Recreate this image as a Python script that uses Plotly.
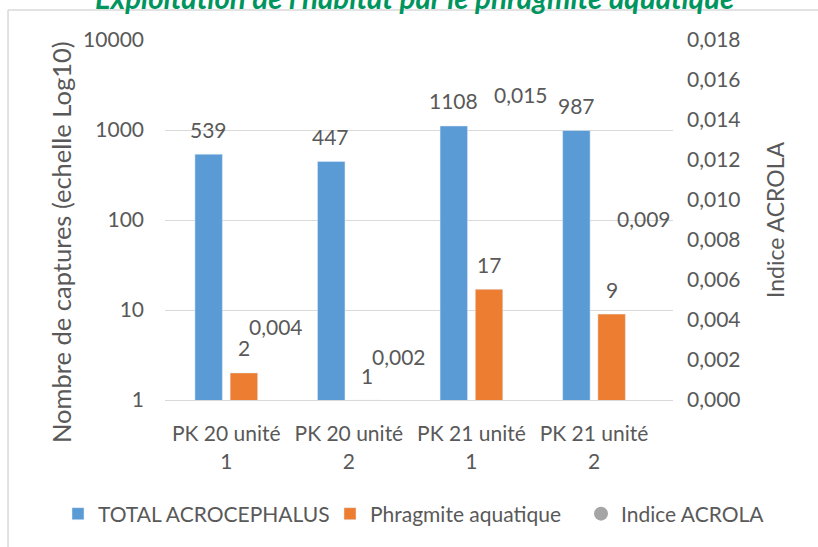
import math
import plotly.graph_objects as go

# ---- data ----
categories = ["PK 20 unité<br>1", "PK 20 unité<br>2", "PK 21 unité<br>1", "PK 21 unité<br>2"]
total_acrocephalus = [539, 447, 1108, 987]
phragmite_aquatique = [2, 1, 17, 9]
indice_acrola = [0.0037, 0.0022, 0.0153, 0.0091]
indice_labels = ["0,004", "0,002", "0,015", "0,009"]
left_tickvals = [1, 10, 100, 1000, 10000]
left_ticktext = ["1", "10", "100", "1000", "10000"]
right_tickvals = [0.000, 0.002, 0.004, 0.006, 0.008, 0.010, 0.012, 0.014, 0.016, 0.018]
right_ticktext = ["0,000", "0,002", "0,004", "0,006", "0,008", "0,010", "0,012", "0,014", "0,016", "0,018"]

title_text = "Exploitation de l'habitat par le phragmite aquatique"
left_title = "Nombre de captures (echelle Log10)"
right_title = "Indice ACROLA"

BLUE = "#5B9BD5"
ORANGE = "#ED7D31"
GRAY = "#A5A5A5"
TXT = "#595959"
GRID = "#D9D9D9"
FONT = "Lato"
FS = 21

fig = go.Figure()
fig.add_trace(go.Bar(x=categories, y=total_acrocephalus, name="TOTAL ACROCEPHALUS",
                     marker_color=BLUE, legend="legend"))
fig.add_trace(go.Bar(x=categories, y=phragmite_aquatique, name="Phragmite aquatique",
                     marker_color=ORANGE, legend="legend2"))
# Indice ACROLA: invisible points on secondary axis (labels only)
fig.add_trace(go.Scatter(x=categories, y=indice_acrola, yaxis="y2", mode="markers",
                         marker=dict(color=GRAY, opacity=0), showlegend=False,
                         hoverinfo="y"))
# legend entry for Indice ACROLA
fig.add_trace(go.Scatter(x=[None], y=[None], yaxis="y2", mode="markers",
                         marker=dict(color=GRAY, size=14, symbol="circle"),
                         name="Indice ACROLA", legend="legend3"))

annotations = []
for c, v in zip(categories, total_acrocephalus):
    annotations.append(dict(x=c, y=math.log10(v), xref="x", yref="y", text=str(v),
                            showarrow=False, xshift=-18, yshift=25, yanchor="middle"))
for c, v in zip(categories, phragmite_aquatique):
    annotations.append(dict(x=c, y=math.log10(v), xref="x", yref="y", text=str(v),
                            showarrow=False, xshift=18, yshift=25, yanchor="middle"))
for c, v, t in zip(categories, indice_acrola, indice_labels):
    annotations.append(dict(x=c, y=v, xref="x", yref="y2", text=t, showarrow=False,
                            xanchor="left", xshift=21, yanchor="middle"))
# axis titles
annotations.append(dict(x=-0.2047, y=0.4389, xref="paper", yref="paper", text=left_title,
                        textangle=-90, showarrow=False, xanchor="center", yanchor="middle",
                        font=dict(size=25.5)))
annotations.append(dict(x=1.2008, y=0.5, xref="paper", yref="paper", text=right_title,
                        textangle=-90, showarrow=False, xanchor="center", yanchor="middle",
                        font=dict(size=23)))
# chart title (cut at top)
annotations.append(dict(x=0.492, y=1.1193, xref="paper", yref="paper", text=title_text,
                        showarrow=False, xanchor="center", yanchor="middle",
                        font=dict(family=FONT, size=29.5, color="#00955F", weight="bold",
                                  style="italic")))

shapes = [
    dict(type="line", xref="paper", yref="paper", x0=-0.309, x1=1.5, y0=1.0833, y1=1.0833,
         line=dict(color=GRID, width=1.5)),
    dict(type="line", xref="paper", yref="paper", x0=-0.309, x1=-0.309, y0=1.0833, y1=-0.6,
         line=dict(color=GRID, width=1.5)),
]

legend_common = dict(orientation="h", xref="container", xanchor="left",
                     yref="paper", y=-0.3167, yanchor="middle",
                     bgcolor="rgba(0,0,0,0)", borderwidth=0,
                     font=dict(family=FONT, size=FS, color=TXT))

fig.update_layout(
    width=818, height=547,
    margin=dict(l=165, r=145, t=40, b=147, autoexpand=False),
    paper_bgcolor="white", plot_bgcolor="white",
    font=dict(family=FONT, size=FS, color=TXT),
    barmode="group", bargap=0.425, bargroupgap=0.22,
    showlegend=True,
    legend=dict(x=(84 - 26) / 818, **legend_common),
    legend2=dict(x=(357 - 27) / 818, **legend_common),
    legend3=dict(x=(608 - 27) / 818, **legend_common),
    xaxis=dict(type="category", showgrid=False, showline=True, linecolor=GRID, linewidth=1,
               ticks="", ticklabelstandoff=15, tickfont=dict(size=FS, color=TXT),
               automargin=False),
    yaxis=dict(type="log", range=[0, 4], tickvals=left_tickvals, ticktext=left_ticktext,
               showgrid=True, gridcolor=GRID, gridwidth=1, zeroline=False, showline=False,
               ticks="", ticklabelstandoff=20, tickfont=dict(size=FS, color=TXT),
               automargin=False),
    yaxis2=dict(overlaying="y", side="right", range=[0, 0.018], tickvals=right_tickvals,
                ticktext=right_ticktext, showgrid=False, zeroline=False, showline=False,
                ticks="", ticklabelstandoff=13, tickfont=dict(size=FS, color=TXT),
                automargin=False),
    annotations=annotations,
    shapes=shapes,
)

fig.write_html("out.html", config={"displayModeBar": False},
               post_script="document.body.style.margin='0';")
